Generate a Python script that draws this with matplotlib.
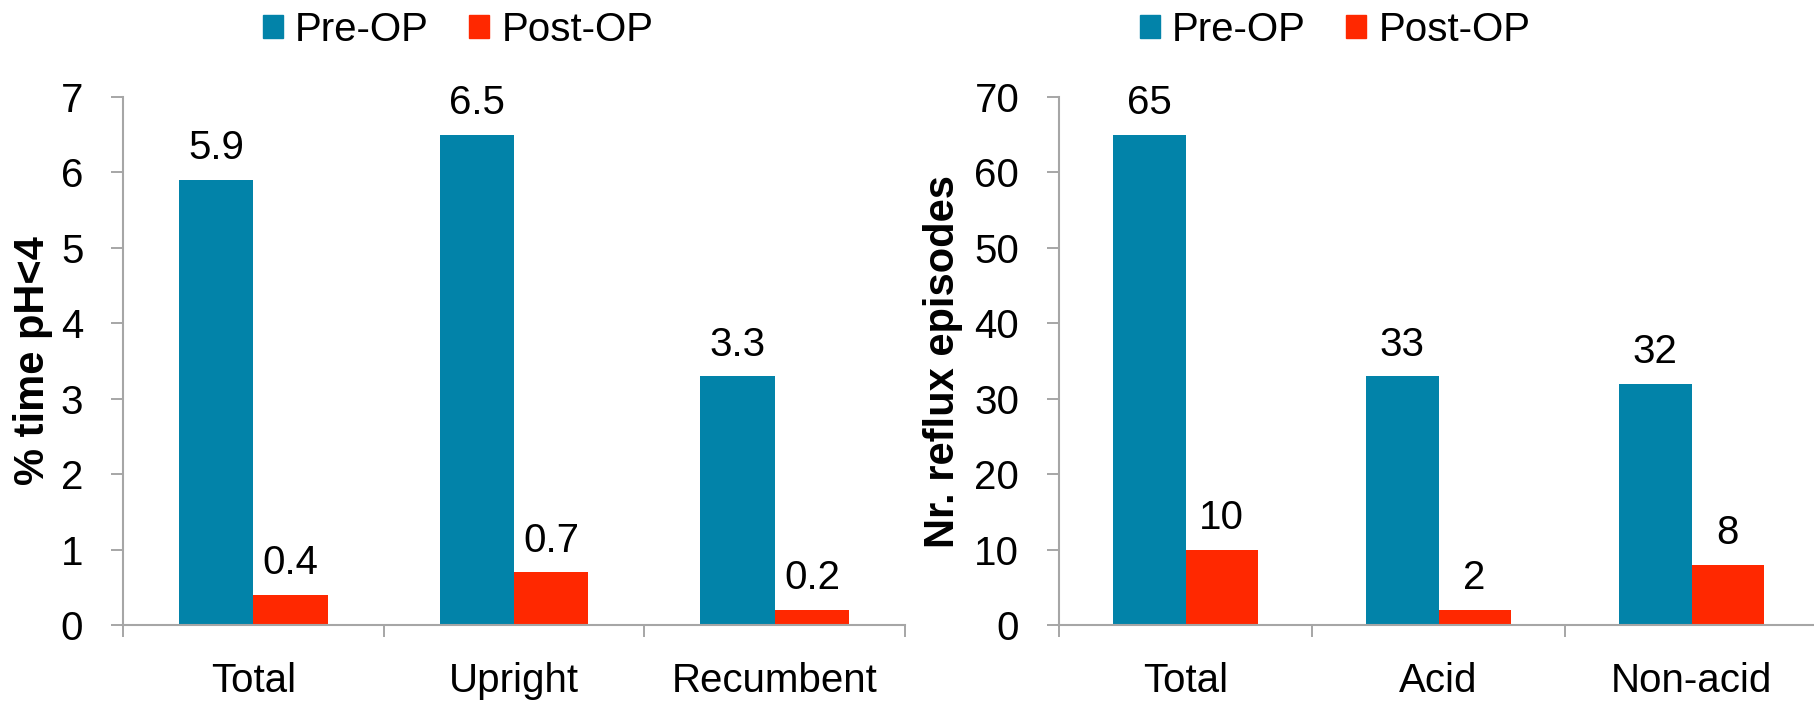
import matplotlib
matplotlib.use("Agg")
import matplotlib.pyplot as plt
import numpy as np
from matplotlib.patches import Patch

plt.rcParams['font.family'] = ['Liberation Sans', 'DejaVu Sans']

# ---- data ----
left_categories = ["Total", "Upright", "Recumbent"]
left_pre = [5.9, 6.5, 3.3]
left_post = [0.4, 0.7, 0.2]
left_ylabel = "% time pH<4"
left_yticks = [0, 1, 2, 3, 4, 5, 6, 7]

right_categories = ["Total", "Acid", "Non-acid"]
right_pre = [65, 33, 32]
right_post = [10, 2, 8]
right_ylabel = "Nr. reflux episodes"
right_yticks = [0, 10, 20, 30, 40, 50, 60, 70]

series_names = ["Pre-OP", "Post-OP"]
left_fmt = "{:.1f}"
right_fmt = "{:d}"

# ---- style ----
BLUE = "#0283A9"
RED = "#FF2800"
AXC = "#A6A6A6"
FS = 29
W, H = 1814, 702
DPI = 100

fig = plt.figure(figsize=(W / DPI, H / DPI), dpi=DPI)

def px_axes(x0, x1, y_top, y_bot):
    return fig.add_axes([x0 / W, (H - y_bot) / H, (x1 - x0) / W, (y_bot - y_top) / H])

ax1 = px_axes(123, 905, 97, 625)
ax2 = px_axes(1059, 1818, 97, 625)

def draw(ax, cats, pre, post, yticks, ylabel, fmt, ylab_x, leg_cx):
    n = len(cats)
    x = np.arange(n) + 0.5
    bw = 1 / 3.5
    b1 = ax.bar(x - bw / 2, pre, bw, color=BLUE, label=series_names[0], zorder=2)
    b2 = ax.bar(x + bw / 2, post, bw, color=RED, label=series_names[1], zorder=2)
    for bars, vals in ((b1, pre), (b2, post)):
        for r, v in zip(bars, vals):
            ax.annotate(fmt.format(v), (r.get_x() + r.get_width() / 2, r.get_height()),
                        xytext=(0, 9), textcoords="offset points",
                        ha="center", va="bottom", fontsize=FS, color="black")
    ax.set_xlim(0, n)
    ax.set_ylim(yticks[0], yticks[-1])
    ax.set_yticks(yticks)
    ax.set_xticks(x)
    ax.set_xticklabels(cats)
    ax.set_xticks(np.arange(n + 1), minor=True)
    ax.tick_params(axis="x", which="major", length=0, pad=27, labelsize=FS)
    ax.tick_params(axis="x", which="minor", length=8.6, width=1.4, color=AXC, direction="out")
    ax.tick_params(axis="y", length=8.6, width=1.4, color=AXC, direction="out",
                   pad=20, labelsize=FS)
    for s in ("top", "right"):
        ax.spines[s].set_visible(False)
    for s in ("left", "bottom"):
        ax.spines[s].set_color(AXC)
        ax.spines[s].set_linewidth(1.5)
    ax.set_ylabel(ylabel, fontsize=30, fontweight="bold")
    ax.yaxis.set_label_coords(ylab_x, 0.5)
    handles = [Patch(color=BLUE), Patch(color=RED)]
    fig.legend(handles, series_names, loc="center", ncol=2,
               bbox_to_anchor=(leg_cx / W, 1 - 30 / H), frameon=False,
               fontsize=FS, handlelength=0.5, handleheight=0.5,
               handletextpad=0.3, columnspacing=1.0, borderpad=0)

draw(ax1, left_categories, left_pre, left_post, left_yticks, left_ylabel, left_fmt, -0.089, 458)
draw(ax2, right_categories, right_pre, right_post, right_yticks, right_ylabel, right_fmt, -0.126, 1335)

fig.savefig("out.png", dpi=DPI)
